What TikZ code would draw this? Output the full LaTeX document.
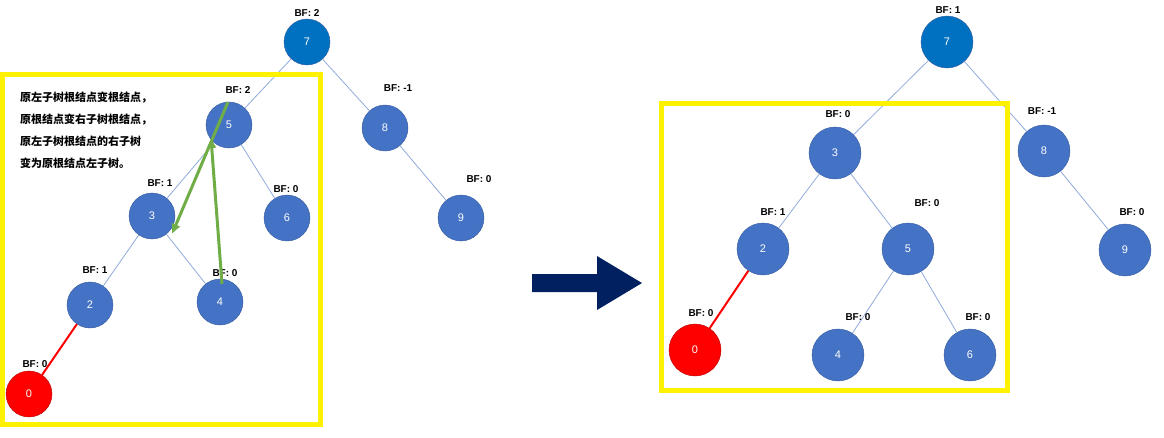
\documentclass[tikz,border=0pt]{standalone}
\usepackage{fontspec}
\setmainfont{Liberation Sans}
\newfontfamily\cjk{Noto Sans CJK SC}
\usetikzlibrary{arrows.meta}
\definecolor{nodeblue}{RGB}{68,114,196}
\definecolor{rootblue}{RGB}{0,112,192}
\definecolor{edgeblue}{RGB}{143,170,220}
\definecolor{navy}{RGB}{0,32,96}
\definecolor{gr}{RGB}{112,173,71}
\begin{document}
\begin{tikzpicture}[x=1pt,y=-1pt,
 nd/.style={circle,draw=nodeblue!80!black,fill=nodeblue,minimum size=46pt,inner sep=0pt,text=white,font=\fontsize{11}{11}\selectfont},
 nbig/.style={nd,minimum size=52pt},
 root/.style={fill=rootblue},
 red0/.style={fill=red,draw=red!70!black},
 bf/.style={font=\bfseries\fontsize{10}{10}\selectfont},
 ed/.style={draw=edgeblue,line width=0.8pt},
 yb/.style={draw=yellow,line width=5pt},
 ga/.style={draw=gr,line width=3pt,-{Latex[length=10pt,width=10pt]}}]
\useasboundingbox (0,0) rectangle (1164,437);
% left tree
\node[nd,root] (a7) at (307,42) {7};
\node[nd] (a5) at (229,125) {5};
\node[nd] (a8) at (385,128) {8};
\node[nd] (a3) at (152,216) {3};
\node[nd] (a6) at (287,218) {6};
\node[nd] (a9) at (461,218) {9};
\node[nd] (a2) at (90,305) {2};
\node[nd] (a4) at (220,302) {4};
\node[nd,red0] (a0) at (29,394) {0};
\draw[ed] (a7)--(a5) (a7)--(a8) (a5)--(a3) (a5)--(a6) (a8)--(a9) (a3)--(a2) (a3)--(a4);
\draw[red,line width=2pt] (a2)--(a0);
\node[bf] at (307,13) {BF: 2};
\node[bf] at (238,90) {BF: 2};
\node[bf] at (398,88) {BF: -1};
\node[bf] at (160,183) {BF: 1};
\node[bf] at (286,189) {BF: 0};
\node[bf] at (479,179) {BF: 0};
\node[bf] at (95,270) {BF: 1};
\node[bf] at (225,273) {BF: 0};
\node[bf] at (35,364) {BF: 0};
\draw[yb] (2,74) rectangle (320,424);
\node[anchor=north west,align=left,font=\cjk\bfseries\fontsize{11}{22}\selectfont,inner sep=0pt] (txt) at (20,92)
 {原左子树根结点变根结点，\\原根结点变右子树根结点，\\原左子树根结点的右子树\\变为原根结点左子树。};
\coordinate (g1) at (222,284); \coordinate (g2) at (211,138);
\coordinate (g3) at (228,102); \coordinate (g4) at (172,234);
\draw[ga] (g1)--(g2);
\draw[ga] (g3)--(g4);
% big arrow
\fill[navy] (532,274) -- (597,274) -- (597,256) -- (642,283) -- (597,310) -- (597,292) -- (532,292) -- cycle;
% right tree
\node[nbig,root] (b7) at (947,42) {7};
\node[nbig] (b3) at (835,153) {3};
\node[nbig] (b8) at (1044,151) {8};
\node[nbig] (b2) at (763,249) {2};
\node[nbig] (b5) at (908,249) {5};
\node[nbig] (b9) at (1125,250) {9};
\node[nbig,red0] (b0) at (695,350) {0};
\node[nbig] (b4) at (838,355) {4};
\node[nbig] (b6) at (970,355) {6};
\draw[ed] (b7)--(b3) (b7)--(b8) (b8)--(b9) (b3)--(b2) (b3)--(b5) (b5)--(b4) (b5)--(b6);
\draw[red,line width=2pt] (b2)--(b0);
\node[bf] at (948,10) {BF: 1};
\node[bf] at (838,114) {BF: 0};
\node[bf] at (1042,111) {BF: -1};
\node[bf] at (773,212) {BF: 1};
\node[bf] at (927,203) {BF: 0};
\node[bf] at (1132,212) {BF: 0};
\node[bf] at (701,313) {BF: 0};
\node[bf] at (858,317) {BF: 0};
\node[bf] at (978,317) {BF: 0};
\draw[yb] (661,103) rectangle (1007,390);
\end{tikzpicture}
\end{document}
